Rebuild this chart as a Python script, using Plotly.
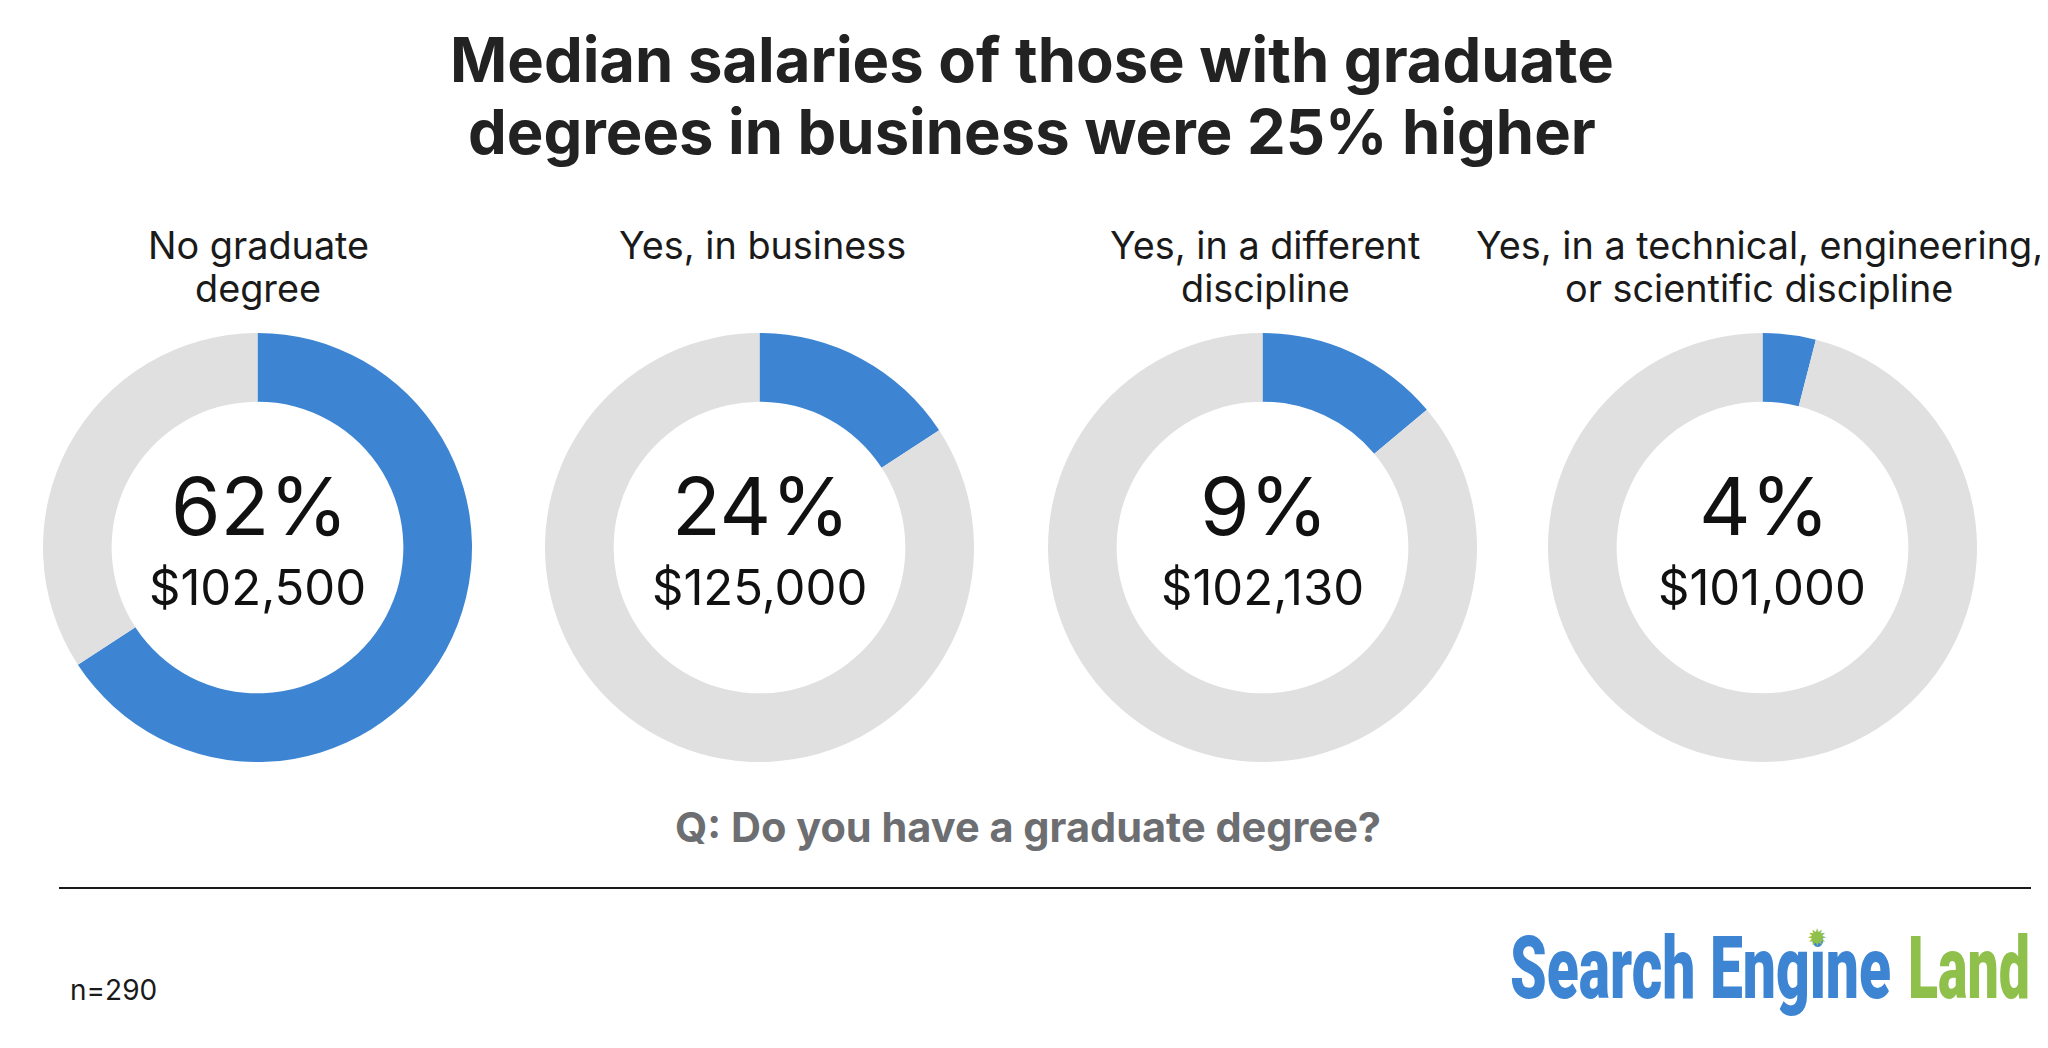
import plotly.graph_objects as go

# the page keeps its 8px body margin, so the figure starts at (8, 8)
W, H = 2040, 1040
PAGE_MARGIN = 8

# Labels and values
title_lines = ["Median salaries of those with graduate", "degrees in business were 25% higher"]
categories = [["No graduate", "degree"], ["Yes, in business"], ["Yes, in a different", "discipline"],
              ["Yes, in a technical, engineering,", "or scientific discipline"]]
percent_labels = ["62%", "24%", "9%", "4%"]
salary_labels = ["$102,500", "$125,000", "$102,130", "$101,000"]
# the arcs in the original are not drawn to the printed percentages
arc_shares = [65.8, 15.8, 13.9, 4.0]

BLUE = "#3d85d3"
GREY = "#e0e0e0"
GREEN = "#8fc04b"
TEXT_FONT = "Inter"

centers_x = [257.5, 759.5, 1262.5, 1762.5]
text_x = [257, 759, 1262, 1762]
label_x = [258, 762, 1265, 1759]
center_y = 547.5
radius = 214.5


def px(x):
    return (x - PAGE_MARGIN) / W


def py(y):
    return 1 - (y - PAGE_MARGIN) / H


fig = go.Figure()

for cx, share in zip(centers_x, arc_shares):
    fig.add_trace(go.Pie(
        values=[share, 100 - share],
        sort=False,
        direction="clockwise",
        rotation=0,
        hole=0.68,
        textinfo="none",
        hoverinfo="skip",
        showlegend=False,
        marker=dict(colors=[BLUE, GREY], line=dict(width=0)),
        domain=dict(x=[px(cx - radius), px(cx + radius)],
                    y=[py(center_y + radius), py(center_y - radius)]),
    ))


def add_text(text, x, y, size, color="#1a1a1a", family=TEXT_FONT, xanchor="center", weight=None):
    fig.add_annotation(text=text, x=px(x), y=py(y), xref="paper", yref="paper",
                       xanchor=xanchor, yanchor="middle", showarrow=False,
                       font=dict(family=family, size=size, color=color, weight=weight))


# Title, two lines set apart by hand
for line, y in zip(title_lines, [59, 131]):
    add_text(f"<b>{line}</b>", 1032, y, 61.5, color="#222222")

for x, lines in zip(label_x, categories):
    for line, y in zip(lines, [245, 288]):
        add_text(line, x, y, 37.8)

for cx, pct, salary in zip(text_x, percent_labels, salary_labels):
    add_text(pct, cx + 2, 505, 80, color="#111111")
    add_text(salary, cx, 587, 49, color="#111111")

add_text("<b>Q: Do you have a graduate degree?</b>", 1028, 827, 41.5, color="#6d6e71")
add_text("n=290", 68, 990, 28, xanchor="left")

# Logo, squeezed to width in the post script below
add_text("Search Engine", 1508, 967, 88, color=BLUE, family="Roboto", xanchor="left", weight=900)
add_text("Land", 1906, 967, 88, color=GREEN, family="Roboto", xanchor="left", weight=900)
add_text("✹", 1817, 938, 24, color=GREEN, family="DejaVu Sans")

fig.add_shape(type="line", xref="paper", yref="paper", x0=px(59), x1=px(2031),
              y0=py(888), y1=py(888), line=dict(color="#1a1a1a", width=2))

fig.update_layout(
    width=W, height=H,
    margin=dict(l=0, r=0, t=0, b=0),
    paper_bgcolor="white",
)

squeeze_logo = """
var logoWidths = {'Search Engine': 381, 'Land': 122};
document.getElementById('{plot_id}').querySelectorAll('text.annotation-text').forEach(function (t) {
    var target = logoWidths[t.textContent];
    if (!target) return;
    t.style.transformBox = 'fill-box';
    t.style.transformOrigin = 'left center';
    t.style.transform = 'scaleX(' + target / t.getBBox().width + ')';
});
"""

fig.write_html("out.html", post_script=squeeze_logo)
